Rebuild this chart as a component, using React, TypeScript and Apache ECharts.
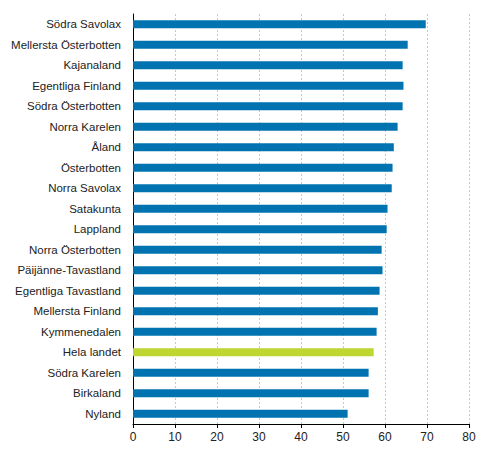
import React, { useEffect, useRef } from "react";
import * as echarts from "echarts";

const categories = [
  "Södra Savolax",
  "Mellersta Österbotten",
  "Kajanaland",
  "Egentliga Finland",
  "Södra Österbotten",
  "Norra Karelen",
  "Åland",
  "Österbotten",
  "Norra Savolax",
  "Satakunta",
  "Lappland",
  "Norra Österbotten",
  "Päijänne-Tavastland",
  "Egentliga Tavastland",
  "Mellersta Finland",
  "Kymmenedalen",
  "Hela landet",
  "Södra Karelen",
  "Birkaland",
  "Nyland",
];

const values = [
  69.7, 65.4, 64.2, 64.4, 64.2, 63.0, 62.1, 61.8, 61.6, 60.6, 60.4, 59.2,
  59.4, 58.7, 58.3, 58.0, 57.3, 56.1, 56.1, 51.1,
];

const highlighted = "Hela landet";

const App = () => {
  const chartRef = useRef<HTMLDivElement>(null);

  useEffect(() => {
    document.body.style.margin = "0";
    const chart = echarts.init(chartRef.current as HTMLDivElement, null, {
      renderer: "svg",
    });

    const option = {
      animation: false,
      grid: { left: 133, right: 22, top: 14, bottom: 30, containLabel: false },
      xAxis: {
        type: "value",
        min: 0,
        max: 80,
        interval: 10,
        axisLine: { show: true, lineStyle: { color: "#000", width: 1 } },
        axisTick: { show: true, length: 4, lineStyle: { color: "#000" } },
        axisLabel: {
          color: "#222",
          fontFamily: "Liberation Sans, Arial, sans-serif",
          fontSize: 12,
          margin: 7,
        },
        splitLine: {
          show: true,
          lineStyle: { color: "#c8c8c8", type: [2, 2], width: 1 },
        },
      },
      yAxis: {
        type: "category",
        inverse: true,
        data: categories,
        axisLine: { show: true, lineStyle: { color: "#000", width: 1 } },
        axisTick: { show: false },
        axisLabel: {
          color: "#222",
          fontFamily: "Liberation Sans, Arial, sans-serif",
          fontSize: 11.5,
          margin: 12,
        },
      },
      series: [
        {
          type: "bar",
          barWidth: 8,
          data: values.map((v, i) => ({
            value: v,
            itemStyle: {
              color: categories[i] === highlighted ? "#bed62f" : "#0073b0",
            },
          })),
        },
      ],
    };

    chart.setOption(option);
    return () => {
      chart.dispose();
    };
  }, []);

  return <div ref={chartRef} style={{ width: 491, height: 454 }} />;
};

export default App;
